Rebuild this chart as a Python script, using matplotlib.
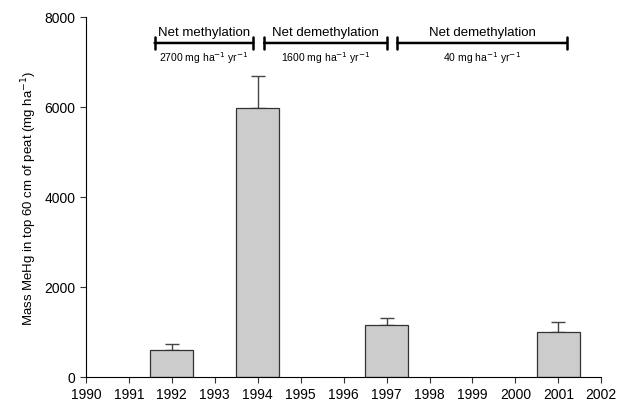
import matplotlib
matplotlib.use("Agg")
import matplotlib.pyplot as plt

plt.rcParams['font.family'] = ['Liberation Sans', 'DejaVu Sans']

years = [1992, 1994, 1997, 2001]
mehg = [600, 5980, 1150, 990]
mehg_err = [140, 700, 170, 240]

# periods shown above the bars
period_start = [1991.6, 1994.15, 1997.25]
period_end = [1993.9, 1997.0, 2001.2]
period_title = ['Net methylation', 'Net demethylation', 'Net demethylation']
period_rate = ['2700 mg ha$^{-1}$ yr$^{-1}$', '1600 mg ha$^{-1}$ yr$^{-1}$', '40 mg ha$^{-1}$ yr$^{-1}$']
bracket_y = 7420

fig = plt.figure(figsize=(6.18, 4.06), dpi=100)
ax = fig.add_axes([0.139, 0.069, 0.834, 0.887])

ax.bar(years, mehg, width=1.0, color='#cccccc', edgecolor='#333333', linewidth=0.9, zorder=2)
ax.errorbar(years, mehg, yerr=[[0] * len(mehg_err), mehg_err], fmt='none',
            ecolor='#444444', elinewidth=1.0, capsize=5, capthick=1.0, zorder=1)

for x0, x1, t, r in zip(period_start, period_end, period_title, period_rate):
    ax.annotate('', xy=(x0, bracket_y), xytext=(x1, bracket_y),
                arrowprops=dict(arrowstyle='|-|,widthA=0.4,widthB=0.4', color='black', lw=1.8,
                                shrinkA=0, shrinkB=0))
    xm = (x0 + x1) / 2
    ax.text(xm, bracket_y + 110, t, ha='center', va='bottom', fontsize=9.5)
    ax.text(xm, bracket_y - 140, r, ha='center', va='top', fontsize=7.5)

ax.set_xlim(1990, 2002)
ax.set_ylim(0, 8000)
ax.set_xticks(range(1990, 2003))
ax.set_yticks([0, 2000, 4000, 6000, 8000])
ax.tick_params(direction='out', length=4, labelsize=10, color='#333333')
ax.spines['top'].set_visible(False)
ax.spines['right'].set_visible(False)
ax.set_ylabel('Mass MeHg in top 60 cm of peat (mg ha$^{-1}$)', fontsize=9.5)

fig.savefig('out.png', dpi=100)
